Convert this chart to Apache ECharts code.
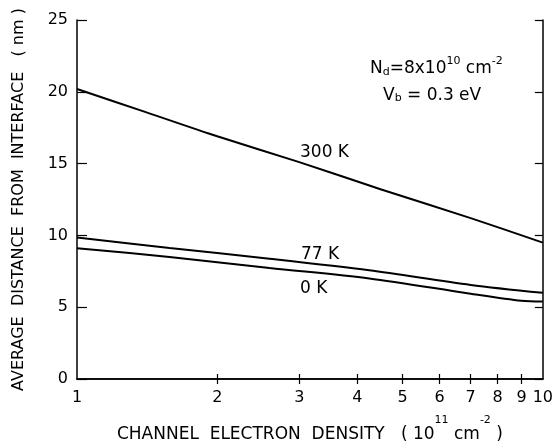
<!DOCTYPE html>
<html>
<head>
<meta charset="utf-8">
<script src="https://cdn.jsdelivr.net/npm/echarts@6/dist/echarts.min.js"></script>
<style>
  html, body { margin: 0; padding: 0; background: #fff; }
  #chart { width: 556px; height: 448px; }
</style>
</head>
<body>
<div id="chart"></div>
<script>
// values (x is channel density in 1e11 cm^-2, log axis)
const x300 = [1, 1.4, 2, 3, 4.5, 7, 10];
const y300 = [20.2, 18.6, 16.9, 15.1, 13.2, 11.2, 9.5];
const x77 = [1, 1.58, 2.59, 4.24, 7, 10];
const y77 = [9.85, 9.12, 8.38, 7.57, 6.55, 6.0];
const x0k = [1, 1.58, 2.59, 4.24, 6.94, 9, 10];
const y0k = [9.1, 8.5, 7.73, 7.0, 5.96, 5.45, 5.4];

const xLabels = [1, 2, 3, 4, 5, 6, 7, 8, 9, 10];
const xMinor = [2, 3, 4, 5, 6, 7, 8, 9];

const font = 'DejaVu Sans';
const pairs = (xs, ys) => xs.map((x, i) => [x, ys[i]]);

const line = {
  type: 'line',
  symbol: 'none',
  smooth: 0.3,
  lineStyle: { color: '#000', width: 2 },
  silent: true
};

const axisLine = { show: true, lineStyle: { color: '#000', width: 1.5 } };
const tickStyle = { color: '#000', width: 1.2 };

const chart = echarts.init(document.getElementById('chart'));
chart.setOption({
  animation: false,
  backgroundColor: '#fff',
  textStyle: { fontFamily: font, color: '#000' },
  grid: { left: 77, right: 12, top: 20, bottom: 67 },
  xAxis: [
    {
      type: 'log', logBase: 10, min: 1, max: 10, position: 'bottom',
      axisLine: axisLine,
      axisTick: { show: true, inside: true, length: 5, customValues: xMinor, lineStyle: tickStyle },
      axisLabel: { customValues: xLabels, margin: 11, fontSize: 16, color: '#000',
        fontFamily: font, showMinLabel: true, showMaxLabel: true },
      splitLine: { show: false },
      name: 'CHANNEL  ELECTRON  DENSITY   ( 10{sup|11} cm{sup|-2} )',
      nameLocation: 'middle', nameGap: 36,
      nameTextStyle: { fontSize: 17, color: '#000', fontFamily: font,
        rich: { sup: { fontSize: 11, fontFamily: font, padding: [0, 0, 28, 0] } } }
    },
    {
      type: 'log', logBase: 10, min: 1, max: 10, position: 'top',
      axisLine: axisLine,
      axisTick: { show: true, inside: true, length: 5, customValues: xMinor, lineStyle: tickStyle },
      axisLabel: { show: false },
      splitLine: { show: false }
    }
  ],
  yAxis: [
    {
      type: 'value', min: 0, max: 25, interval: 5, position: 'left',
      axisLine: axisLine,
      axisTick: { show: true, inside: true, length: 10, lineStyle: tickStyle },
      axisLabel: { margin: 9, fontSize: 16, color: '#000', fontFamily: font },
      splitLine: { show: false },
      name: 'AVERAGE  DISTANCE  FROM  INTERFACE   ( nm )',
      nameLocation: 'middle', nameGap: 50, nameRotate: 90,
      nameTextStyle: { fontSize: 16, color: '#000', fontFamily: font }
    },
    {
      type: 'value', min: 0, max: 25, interval: 5, position: 'right',
      axisLine: axisLine,
      axisTick: { show: true, inside: true, length: 8, lineStyle: tickStyle },
      axisLabel: { show: false },
      splitLine: { show: false }
    }
  ],
  graphic: [
    { type: 'text', left: 300, top: 144,
      style: { text: '300 K', font: '17px "DejaVu Sans"', fill: '#000' } },
    { type: 'text', left: 301, top: 246,
      style: { text: '77 K', font: '17px "DejaVu Sans"', fill: '#000' } },
    { type: 'text', left: 300, top: 280,
      style: { text: '0 K', font: '17px "DejaVu Sans"', fill: '#000' } },
    { type: 'text', left: 370, top: 56,
      style: {
        text: 'N{sub|d}=8x10{sup|10} cm{sup|-2}',
        font: '17px "DejaVu Sans"', fill: '#000',
        rich: {
          sub: { fontSize: 11, fontFamily: font, padding: [6, 0, 0, 0] },
          sup: { fontSize: 11, fontFamily: font, padding: [0, 0, 15, 0] }
        }
      } },
    { type: 'text', left: 383, top: 87,
      style: {
        text: 'V{sub|b} = 0.3 eV',
        font: '17px "DejaVu Sans"', fill: '#000',
        rich: {
          sub: { fontSize: 11, fontFamily: font, padding: [6, 0, 0, 0] }
        }
      } }
  ],
  series: [
    Object.assign({ name: '300 K', data: pairs(x300, y300) }, line),
    Object.assign({ name: '77 K', data: pairs(x77, y77) }, line),
    Object.assign({ name: '0 K', data: pairs(x0k, y0k) }, line)
  ]
});
</script>
</body>
</html>
